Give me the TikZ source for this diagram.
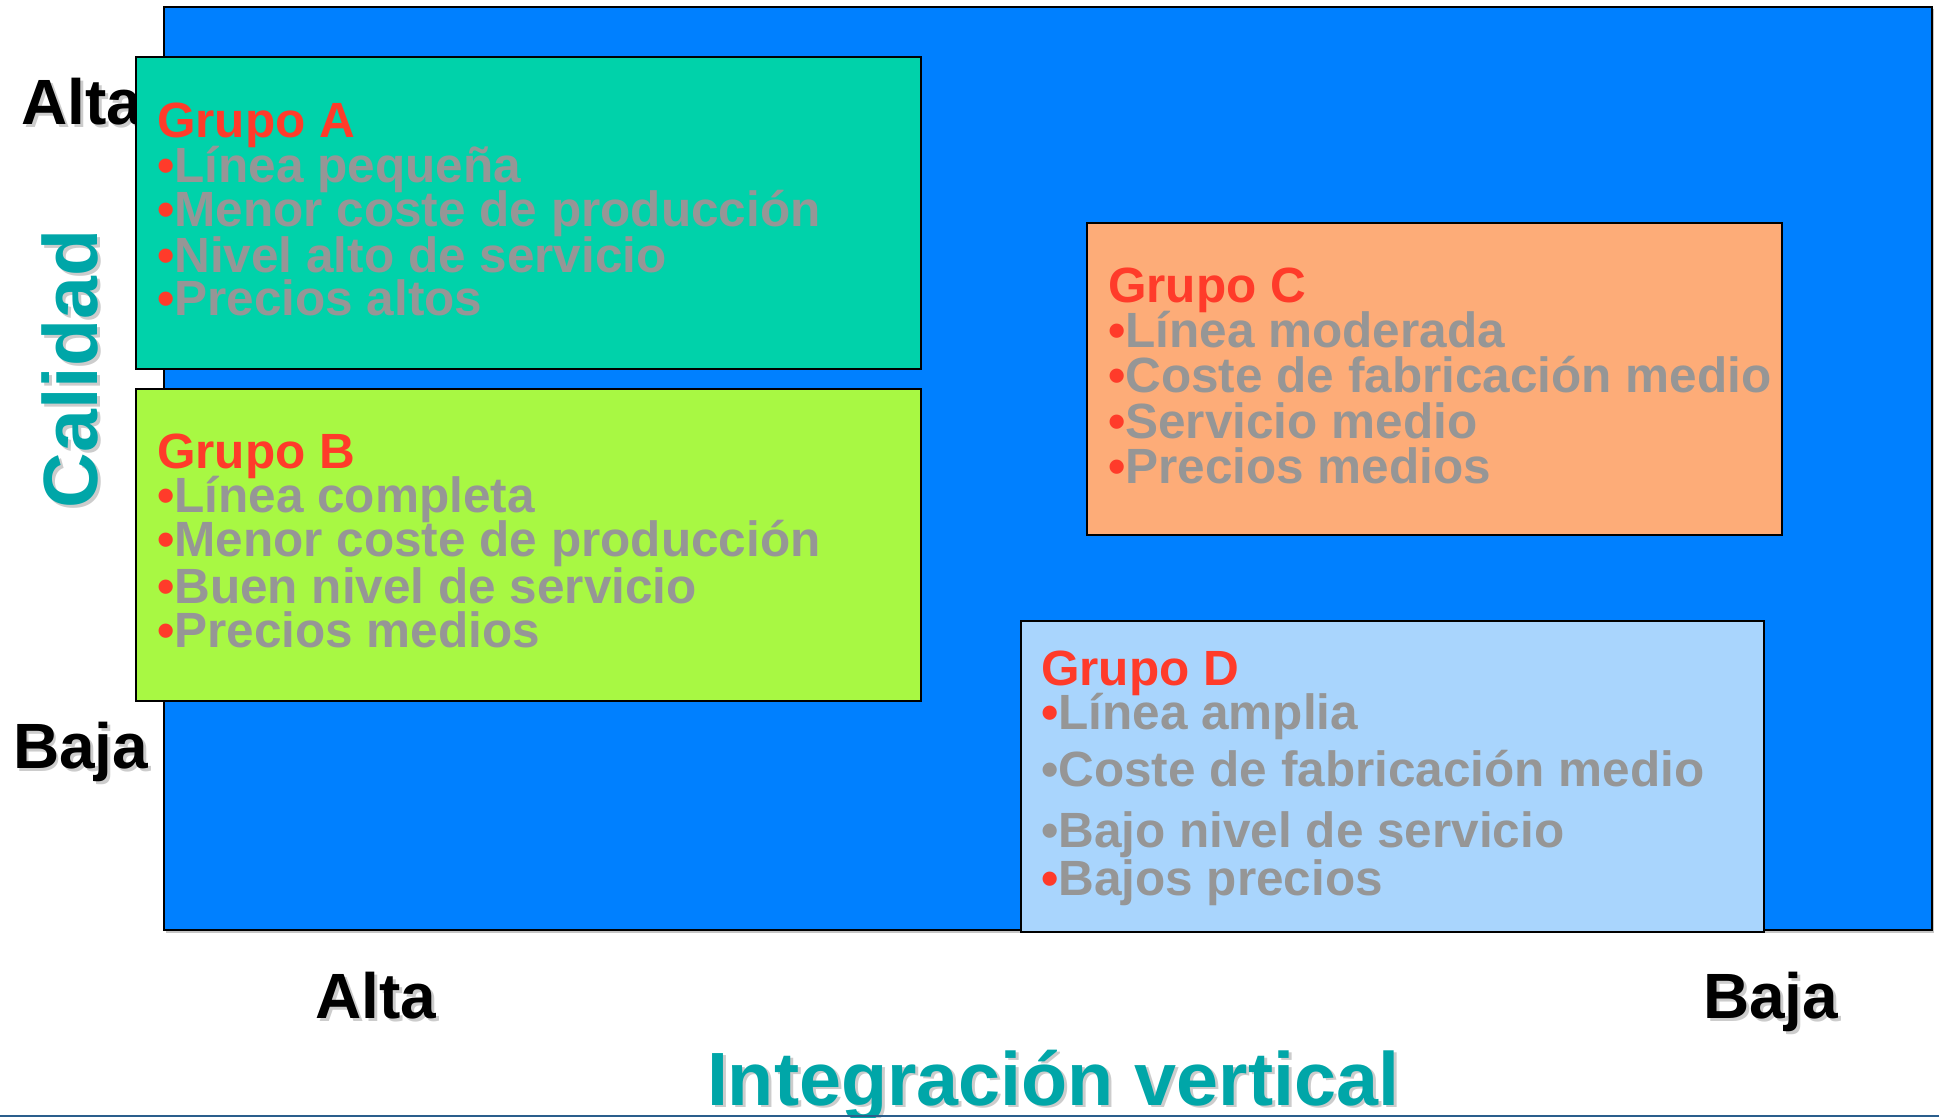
\documentclass[tikz,border=0pt]{standalone}
\usepackage{fontspec}
\setmainfont{Liberation Sans}
\definecolor{bgblue}{RGB}{0,128,255}
\definecolor{boxAc}{RGB}{0,210,170}
\definecolor{boxBc}{RGB}{168,248,67}
\definecolor{boxCc}{RGB}{253,172,120}
\definecolor{boxDc}{RGB}{169,213,253}
\definecolor{tred}{RGB}{255,59,42}
\definecolor{tgrey}{RGB}{150,150,150}
\definecolor{tealtxt}{RGB}{0,166,168}
\definecolor{rulec}{RGB}{42,94,140}
\newcommand{\rb}{\textcolor{tred}{\textbullet}}
\newcommand{\gb}{\textcolor{tgrey}{\textbullet}}
\begin{document}
\begin{tikzpicture}[x=1pt,y=-1pt,
  panel/.style={draw=black, line width=2.5pt, inner sep=0pt, outer sep=0pt, anchor=north west},
  txt/.style={anchor=base west, inner sep=0pt, outer sep=0pt, font=\fontsize{49.5}{50}\selectfont\bfseries},
  title/.style={txt, text=tred},
  item/.style={txt, text=tgrey},
  axlab/.style={anchor=base west, inner sep=0pt, outer sep=0pt, font=\fontsize{64}{64}\selectfont\bfseries},
  axtitle/.style={anchor=base west, inner sep=0pt, outer sep=0pt, text=tealtxt},
  shd/.style={text=black, opacity=0.2}
]
\useasboundingbox (0,0) rectangle (1939,1117);
\fill[white] (0,0) rectangle (1939,1117);

% background panel
\fill[black!45, opacity=0.5] (166,9) rectangle (1934,933);
\node[panel, fill=bgblue, line width=2pt, minimum width=1768pt, minimum height=923pt] (bg) at (164,7) {};

% left axis labels (drawn before boxes)
\node[axlab, shd] (altaLs) at (24,127) {Alta};
\node[axlab] (altaL) at (21,124) {Alta};
\node[axlab, shd] (bajaLs) at (16,771) {Baja};
\node[axlab] (bajaL) at (13,768) {Baja};

% boxes
\node[panel, fill=boxAc, minimum width=785pt, minimum height=312pt] (boxA) at (136,57) {};
\node[panel, fill=boxBc, minimum width=785pt, minimum height=312pt] (boxB) at (136,389) {};
\node[panel, fill=boxCc, minimum width=695pt, minimum height=312pt] (boxC) at (1087,223) {};
\node[panel, fill=boxDc, minimum width=743pt, minimum height=311pt] (boxD) at (1021,621) {};

% Grupo A
\node[title] (tA) at (157,137) {Grupo A};
\node[item] (a1) at (157,182) {\rb Línea pequeña};
\node[item] (a2) at (157,226) {\rb Menor coste de producción};
\node[item] (a3) at (157,272) {\rb Nivel alto de servicio};
\node[item] (a4) at (157,315) {\rb Precios altos};

% Grupo B
\node[title] (tB) at (157,468) {Grupo B};
\node[item] (b1) at (157,512) {\rb Línea completa};
\node[item] (b2) at (157,556) {\rb Menor coste de producción};
\node[item] (b3) at (157,603) {\rb Buen nivel de servicio};
\node[item] (b4) at (157,647) {\rb Precios medios};

% Grupo C
\node[title] (tC) at (1108,302) {Grupo C};
\node[item] (c1) at (1108,347) {\rb Línea moderada};
\node[item] (c2) at (1108,392) {\rb Coste de fabricación medio};
\node[item] (c3) at (1108,438) {\rb Servicio medio};
\node[item] (c4) at (1108,483) {\rb Precios medios};

% Grupo D
\node[title] (tD) at (1041,685) {Grupo D};
\node[item] (d1) at (1041,729) {\rb Línea amplia};
\node[item] (d2) at (1041,786) {\gb Coste de fabricación medio};
\node[item] (d3) at (1041,847) {\gb Bajo nivel de servicio};
\node[item] (d4) at (1041,895) {\rb Bajos precios};

% bottom axis labels
\node[axlab, shd] (altaBs) at (318,1021) {Alta};
\node[axlab] (altaB) at (315,1018) {Alta};
\node[axlab, shd] (bajaBs) at (1706,1021) {Baja};
\node[axlab] (bajaB) at (1703,1018) {Baja};

% axis titles
\node[axtitle, shd, rotate=90, font=\fontsize{77}{77}\selectfont\bfseries] (calS) at (100,511) {Calidad};
\node[axtitle, rotate=90, font=\fontsize{77}{77}\selectfont\bfseries] (cal) at (97,508) {Calidad};
\node[axtitle, shd, font=\fontsize{75.5}{76}\selectfont\bfseries] (intS) at (710,1107) {Integración vertical};
\node[axtitle, font=\fontsize{75.5}{76}\selectfont\bfseries] (int) at (707,1105) {Integración vertical};

% bottom rule
\coordinate (ruleL) at (0,1116);
\coordinate (ruleR) at (1939,1116);
\draw[rulec, line width=2pt] (ruleL) -- (ruleR);
\end{tikzpicture}
\end{document}
